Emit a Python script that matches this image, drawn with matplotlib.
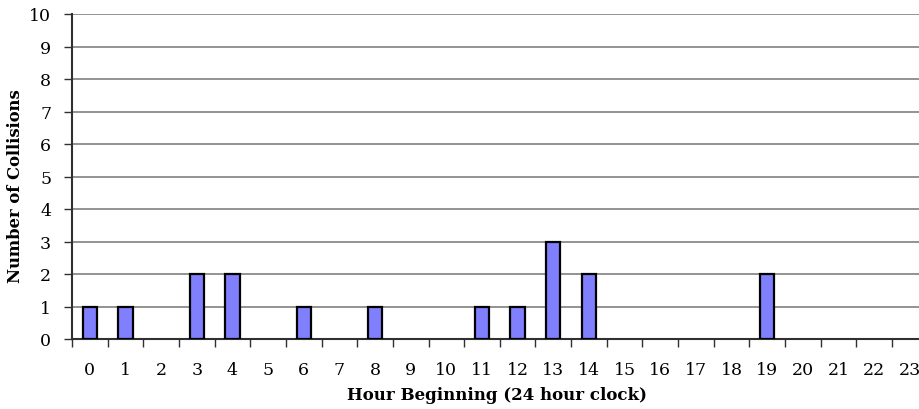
import matplotlib
matplotlib.use("Agg")
import matplotlib.pyplot as plt
import numpy as np

hours = list(range(24))
collisions = [1, 1, 0, 2, 2, 0, 1, 0, 1, 0, 0, 1, 1, 3, 2, 0, 0, 0, 0, 2, 0, 0, 0, 0]
y_ticks = list(range(0, 11))

plt.rcParams['font.family'] = ['DejaVu Serif']

fig = plt.figure(figsize=(9.19, 4.10), dpi=100)
ax = fig.add_axes([72 / 919, 70 / 410, 855.6 / 919, 325 / 410])

x = np.array(hours)
vals = np.array(collisions)
mask = vals > 0
ax.bar(x[mask], vals[mask], width=0.4, color='#8080FF', edgecolor='black',
       linewidth=1.6, zorder=3)

ax.set_xlim(-0.5, 23.5)
ax.set_ylim(0, 10)
ax.set_yticks(y_ticks)
ax.yaxis.grid(True, color='#808080', linewidth=1.2, zorder=0)
ax.set_axisbelow(True)

# category labels sit between the boundary tick marks
ax.set_xticks(hours)
ax.set_xticklabels([str(h) for h in hours])
ax.tick_params(axis='x', which='major', length=0, pad=16, labelsize=12.5)
ax.set_xticks(np.arange(-0.5, 24, 1), minor=True)
ax.tick_params(axis='x', which='minor', length=6, width=1.0, color='#303030',
               direction='out')
ax.tick_params(axis='y', length=6, width=1.0, color='#303030', labelsize=12.5,
               pad=9)

for side in ('top', 'right'):
    ax.spines[side].set_visible(False)
ax.spines['left'].set_color('#303030')
ax.spines['left'].set_linewidth(1.5)
ax.spines['bottom'].set_color('#303030')
ax.spines['bottom'].set_linewidth(1.5)

fig.text(497 / 919, 1 - 396 / 410, 'Hour Beginning (24 hour clock)',
         ha='center', va='center', fontsize=12, fontweight='bold')
fig.text(16 / 919, 1 - 186 / 410, 'Number of Collisions', rotation=90,
         ha='center', va='center', fontsize=11.8, fontweight='bold')

fig.savefig('out.png', dpi=100)
